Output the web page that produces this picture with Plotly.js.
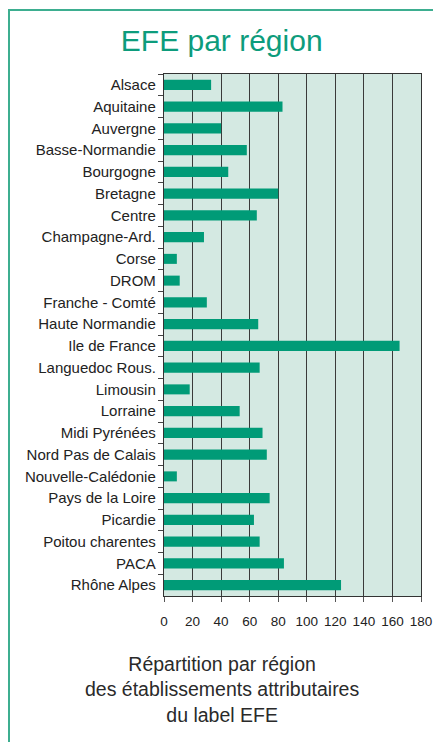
<!DOCTYPE html>
<html><head><meta charset="utf-8">
<script src="https://cdn.plot.ly/plotly-3.0.1.min.js"></script>
<style>html,body{margin:0;padding:0;background:#fff;}#chart{width:433px;height:742px;}</style>
</head><body><div id="chart"></div>
<script>
const regions = ["Alsace","Aquitaine","Auvergne","Basse-Normandie","Bourgogne","Bretagne","Centre","Champagne-Ard.","Corse","DROM","Franche - Comté","Haute Normandie","Ile de France","Languedoc Rous.","Limousin","Lorraine","Midi Pyrénées","Nord Pas de Calais","Nouvelle-Calédonie","Pays de la Loire","Picardie","Poitou charentes","PACA","Rhône Alpes"];
const counts = [33,83,40,58,45,80,65,28,9,11,30,66,165,67,18,53,69,72,9,74,63,67,84,124];
const xTicks = [0,20,40,60,80,100,120,140,160,180];

const labelFont = "'Liberation Sans Narrow', 'Arial Narrow', 'Liberation Sans', Arial, sans-serif";
const trace = {
  type: 'bar', orientation: 'h', x: counts, y: regions,
  marker: {color: '#009b77'}, width: 0.46, hoverinfo: 'none'
};
const L = 164, R = 12, T = 74, B = 146;
const W = 433 - L - R, H = 742 - T - B;
const layout = {
  width: 433, height: 742,
  margin: {l: L, r: R, t: T, b: B},
  paper_bgcolor: '#ffffff', plot_bgcolor: '#d4e9e2',
  showlegend: false,
  title: {text: 'EFE par région', x: 0.512, xanchor: 'center', y: 0.945, yanchor: 'middle',
    font: {family: "'Liberation Sans', Arial, sans-serif", size: 30, color: '#0d9c7c', weight: 500}},
  xaxis: {range: [0, 180], tickvals: xTicks, ticktext: xTicks.map(String), tickangle: 0,
    ticklabeloverflow: 'allow', ticklabelstandoff: 8,
    showgrid: true, gridcolor: '#3a3a3a', gridwidth: 1.2,
    showline: true, linecolor: '#333', linewidth: 1.2, mirror: true,
    ticks: 'outside', ticklen: 5, tickcolor: '#555', zeroline: false,
    tickfont: {family: labelFont, size: 13.5, color: '#222'}, fixedrange: true},
  yaxis: {type: 'category', autorange: 'reversed', tickson: 'boundaries',
    showline: true, linecolor: '#333', linewidth: 1.2, mirror: true,
    ticks: 'outside', ticklen: 5, tickcolor: '#444', showgrid: false,
    tickfont: {family: labelFont, size: 15, color: '#222'}, ticklabelstandoff: 4, fixedrange: true},
  shapes: [{type: 'rect', xref: 'paper', yref: 'paper',
    x0: (9-L)/W, x1: (445-L)/W, y0: (596-748)/H, y1: (596-10)/H,
    line: {color: '#3dae90', width: 2}, fillcolor: 'rgba(0,0,0,0)', layer: 'below'}],
  annotations: [{xref: 'paper', yref: 'paper', x: (222-L)/W, y: -(689-596)/H, xanchor: 'center', yanchor: 'middle',
    text: 'Répartition par région<br>des établissements attributaires<br>du label EFE', showarrow: false, align: 'center',
    font: {family: "'Liberation Sans', Arial, sans-serif", size: 19.5, color: '#2a2a2a'}}]
};
Plotly.newPlot('chart', [trace], layout, {displayModeBar: false, staticPlot: true});
</script></body></html>
